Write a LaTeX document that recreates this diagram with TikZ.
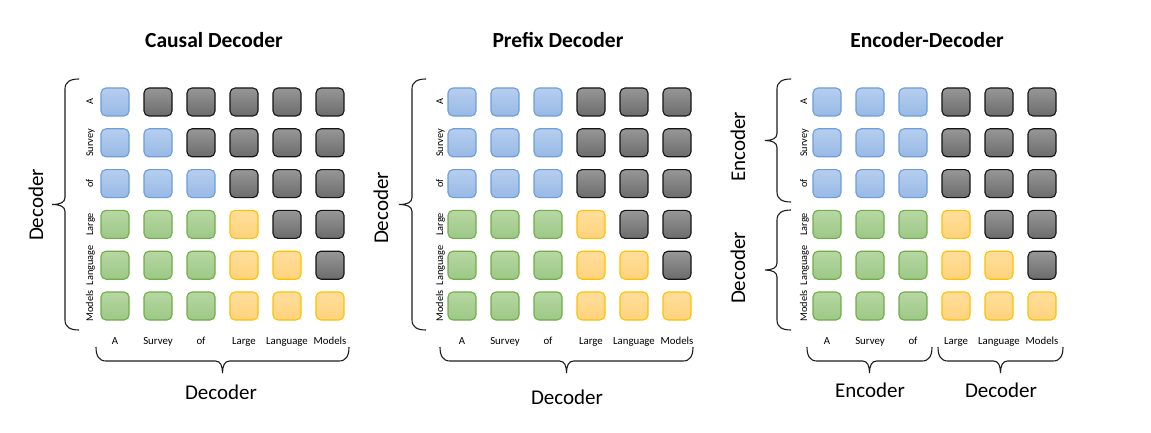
\documentclass[tikz,border=0pt]{standalone}
\usepackage{fontspec}
\setmainfont{Carlito}
\definecolor{cbT}{HTML}{B6CEEF}
\definecolor{cbB}{HTML}{98B9E5}
\definecolor{cbD}{HTML}{6C9FDA}
\definecolor{cgT}{HTML}{B7D7A3}
\definecolor{cgB}{HTML}{9CC886}
\definecolor{cgD}{HTML}{70AD47}
\definecolor{cyT}{HTML}{FFDE9C}
\definecolor{cyB}{HTML}{FFD37C}
\definecolor{cyD}{HTML}{FFC000}
\definecolor{ckT}{HTML}{979797}
\definecolor{ckB}{HTML}{6C6C6C}
\definecolor{ckD}{HTML}{151515}
\definecolor{brc}{HTML}{1E1E1E}
\tikzset{
  cell/.style={rectangle, rounded corners=5pt, minimum width=28pt, minimum height=28pt, inner sep=0pt, line width=1.1pt},
  rowlab/.style={font=\fontsize{10.3}{12}\selectfont, rotate=90, anchor=base, inner sep=0pt},
  collab/.style={font=\fontsize{10.8}{12}\selectfont, anchor=base, inner sep=0pt},
  biglab/.style={font=\fontsize{21}{25}\selectfont, inner sep=0pt},
  title/.style={font=\fontsize{21.5}{25}\selectfont\bfseries, inner sep=0pt},
  bracestyle/.style={draw=brc, line width=1.1pt}
}
\newcommand\VBrace[4]{%
  \pgfmathsetmacro\ym{(#2+#3)/2}%
  \draw[bracestyle] ({#1+14},#2) .. controls ({#1+5},#2) and (#1,{#2+3}) .. (#1,{#2+10})
    -- (#1,{\ym-7}) .. controls (#1,{\ym-2}) and ({#1-5},\ym) .. (#4,\ym)
    .. controls ({#1-5},\ym) and (#1,{\ym+2}) .. (#1,{\ym+7})
    -- (#1,{#3-10}) .. controls (#1,{#3-3}) and ({#1+5},#3) .. ({#1+14},#3);}
\newcommand\HBrace[4]{%
  \pgfmathsetmacro\xm{(#1+#2)/2}%
  \pgfmathsetmacro\yl{#3+14}%
  \draw[bracestyle] (#1,#3) .. controls (#1,{#3+9}) and ({#1+3},\yl) .. ({#1+10},\yl)
    -- ({\xm-7},\yl) .. controls ({\xm-2},\yl) and (\xm,{\yl+5}) .. (\xm,#4)
    .. controls (\xm,{\yl+5}) and ({\xm+2},\yl) .. ({\xm+7},\yl)
    -- ({#2-10},\yl) .. controls ({#2-3},\yl) and (#2,{#3+9}) .. (#2,#3);}
\newcommand\Grid[4]{% name, first column x, mode, row-label baseline x
  \foreach \r in {0,...,5}{\foreach \c in {0,...,5}{%
    \pgfmathtruncatemacro\k{#3==0 ? (\c>\r ? 3 : (\r<3 ? 0 : (\c<3 ? 1 : 2))) : (\r<3 ? (\c<3 ? 0 : 3) : (\c<3 ? 1 : (\c>\r ? 3 : 2)))}%
    \ifcase\k \def\cn{cb}\or\def\cn{cg}\or\def\cn{cy}\else\def\cn{ck}\fi
    \node[cell, draw=\cn D, top color=\cn T, bottom color=\cn B] (#1-\r-\c) at ({#2+43*\c},{102+40.8*\r}) {};
  }}%
  \foreach \t [count=\i from 0] in {A,Survey,of,Large,Language,Models}{%
    \node[rowlab] (#1-rl-\i) at (#4,{102+40.8*\i}) {\t};
    \node[collab] (#1-cl-\i) at ({#2+43*\i},344) {\t};
  }}
\begin{document}
\begin{tikzpicture}[x=1pt,y=-1pt]
\useasboundingbox[fill=white] (0,0) rectangle (1151,433);
% titles
\node[title] (t1) at (214,40) {Causal Decoder};
\node[title] (t2) at (558,40) {Prefix Decoder};
\node[title] (t3) at (927,40) {Encoder-Decoder};
% grids
\Grid{ca}{115}{0}{93}
\Grid{pr}{462}{1}{443}
\Grid{ed}{827}{1}{807}
% causal braces
\VBrace{65}{79}{330}{52}
\node[biglab, rotate=90] (ca-left) at (36,205) {Decoder};
\HBrace{96}{349}{347}{373}
\node[biglab] (ca-bot) at (221,392) {Decoder};
% prefix braces
\VBrace{412}{79}{330}{399}
\node[biglab, rotate=90] (pr-left) at (381,208) {Decoder};
\HBrace{440}{693}{347}{373}
\node[biglab] (pr-bot) at (567,397) {Decoder};
% encoder-decoder braces
\VBrace{777}{79}{202}{765}
\VBrace{777}{210}{330}{765}
\node[biglab, rotate=90] (ed-left1) at (738,147) {Encoder};
\node[biglab, rotate=90] (ed-left2) at (738,268) {Decoder};
\HBrace{807}{932}{347}{373}
\HBrace{938}{1063}{347}{373}
\node[biglab] (ed-bot1) at (870,390) {Encoder};
\node[biglab] (ed-bot2) at (1001,390) {Decoder};
\end{tikzpicture}
\end{document}
